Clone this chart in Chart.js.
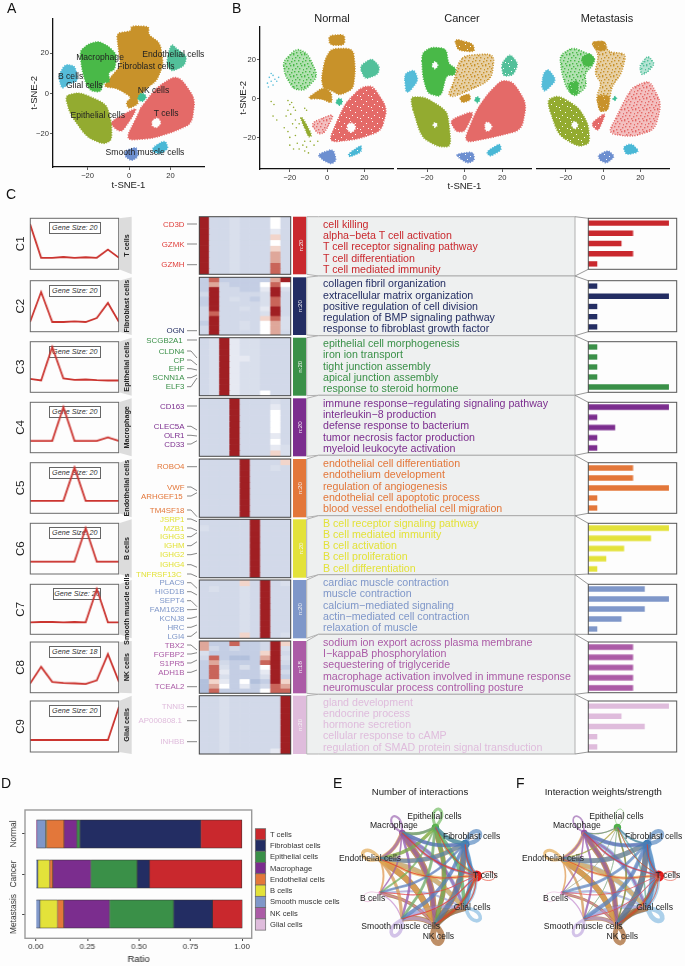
<!DOCTYPE html>
<html>
<head>
<meta charset="utf-8">
<title>Cell type atlas</title>
<script src="https://cdn.jsdelivr.net/npm/chart.js@4"></script>
<style>
body { margin: 0; background: #fdfdfd; }
#fig { position: relative; width: 685px; height: 966px; overflow: hidden; font-family: "Liberation Sans", Arial, sans-serif; }
#fig canvas { position: absolute; }
#overlay { position: absolute; left: 0; top: 0; }
.gsize { position: absolute; box-sizing: border-box; height: 12px; border: 1px solid #666; background: #fff; font: italic 7.2px "Liberation Sans", Arial, sans-serif; color: #333; text-align: center; line-height: 10px; }
</style>
</head>
<body>
<div id="fig"><svg id="overlay" width="685" height="966"></svg></div>
<script>
// ---- cell types
const cellTypes = ['T cells', 'Fibroblast cells', 'Epithelial cells', 'Macrophage', 'Endothelial cells', 'B cells', 'Smooth muscle cells', 'NK cells', 'Glial cells'];
const clusterColors = ['#c9282d', '#232d63', '#3a9048', '#7b2d8e', '#e3773a', '#e3e23a', '#7f97c9', '#ab5ba6', '#dfbcdc'];

// ---- panel A, outlines of the t-SNE clouds
const allMac = [[-23.7,21.1],[-19.6,24.7],[-14.8,26],[-10,23.6],[-6,19.5],[-6.8,12],[-10,10.5],[-9.2,5.6],[-12.4,5.6],[-13.7,.7],[-18.8,1.5],[-21.3,6.4],[-22.9,13]];
const allFib = [[1,33.7],[9.7,33.4],[9.3,29.3],[15,25.2],[16.6,14.6],[13.4,6.4],[8.5,2.8],[4,-2.6],[4.5,-5.1],[-.3,-7.5],[-1.4,-4.3],[1.3,-1.8],[-6,2.8],[-12.4,3.4],[-8.4,8.8],[-4,13.8],[-5.2,22.8],[-6,30.1],[1,31]];
const allEndo = [[19,20.3],[20.6,24.7],[23,22.3],[27.9,18.7],[26.7,13.8],[20.6,11],[18.2,14.6]];
const allB = [[-30.9,14.6],[-26.1,13.8],[-24.5,6.4],[-29.3,4.8],[-32.5,2.3],[-34.1,8.8]];
const allT = [[21.4,8.4],[25.4,7.2],[31.9,-2.6],[30.3,-14.9],[21.4,-19],[11,-22.3],[-1.9,-23.1],[4.5,-10],[5.3,-7.5],[13.4,3.1]];
const allT2 = [[-9.2,-14.1],[3.7,-6.7],[2.1,-10.8],[-3.5,-19],[-6.8,-17.4]];
const allEpi = [[-30.9,-1],[-23.7,.7],[-10.8,-5.1],[-8.4,-14.9],[-8.4,-23.1],[-12.4,-25.1],[-20.5,-21.5],[-28.5,-10]];
const allNK = [[4.2,-1.8],[5.5,.2],[7.6,-.2],[8.4,-2],[6.8,-3.8],[4.9,-3.5]];
const allSM = [[-1.9,-28.3],[3.7,-26.4],[4.5,-31.3],[1.3,-33.4],[-1.9,-31.3]];
const allSky = [[11.8,-26.4],[17.4,-23.1],[19,-27.2],[15,-30],[11.4,-28.8]];
const allHole = [[11.5,-13],[14,-12],[15.5,-14.5],[13.5,-17],[11,-16]];
const labelsA = ['Macrophage', 'Fibroblast cells', 'Endothelial cells', 'B cells', 'Glial cells', 'Epithelial cells', 'NK cells', 'T cells', 'Smooth muscle cells'];
const labelsAxy = [[-14,17.9],[8.2,13.4],[21.4,19.2],[-28.2,8.7],[-21.6,3.8],[-15.1,-11],[11.8,1.3],[17.9,-10],[7.7,-29.5]];

// ---- panel B, Normal
const normMac = [[-23.6,19.2],[-16.4,25.9],[-10.5,23.4],[-4.8,11.7],[-12,4.2],[-18.2,5],[-22.7,12.5]];
const normFib = [[-3,10.9],[-1.2,20.1],[2.3,25.9],[14,25.9],[15.2,15.1],[14,5],[6.8,1.7],[2.3,4.2],[-2.2,5.4]];
const normFibTail = [[-10.9,0],[-2.2,5.9],[2.3,3.3],[2.7,-2.5],[-3,0]];
const normFibTop = [[.9,32.6],[9.4,33.1],[9.4,27.6],[1.4,27.6]];
const normEndo = [[17.5,16.7],[23.8,20.9],[28.2,16.7],[27.3,12.5],[20.2,10]];
const normNK = [[4.6,-1.7],[6,.2],[8,-.4],[8.2,-2.4],[6.4,-3.6]];
const normT = [[18.4,5.9],[24.6,6.7],[32.3,-5],[29.1,-16.7],[16.6,-20.9],[.5,-22.6],[6.8,-8.4],[10.4,-1.7]];
const normT2 = [[-8.8,-12.6],[4.1,-7.5],[-1.3,-17.6],[-4.8,-18.4]];
const normHole = [[11,-13],[14,-12.5],[15.5,-15],[13.5,-17.5],[11,-16.5]];
const normSM = [[-5.2,-28.8],[3.2,-25.9],[5,-31.8],[2.3,-33.8],[-2.1,-31.8]];
const normSky = [[11.3,-28.5],[18.4,-23.8],[18.4,-27.6],[12.1,-30.1]];
const normEpiStreak = [[-14.5,-9.5],[-13,-10],[-8,-19],[-10,-20]];
const normEpiDots = [[-30,-1.5],[-28.5,-3],[-29,-9],[-27,-11],[-21,-1],[-20,-3],[-19,-2],[-18,-4.5],[-17,-6],[-21,-6],[-22,-9],[-19.5,-8],[-12,-5],[-11,-6],[-23,-15],[-21,-17],[-20,-20],[-17,-19],[-16,-23],[-15,-26],[-13,-24],[-12,-22],[-11,-25],[-10,-28],[-18.5,-13],[-17,-11],[-16.5,-15],[-15,-13],[-9,-22],[-7,-24],[-5,-22],[-20,-24],[-18,-26],[-12,-27]];
const normBDots = [[-32,8],[-31,11],[-30,13],[-29,12],[-31.5,6],[-29,7],[-28,10],[-27,9],[-26,11],[-30,9]];

// ---- panel B, Cancer
const cancMac = [[-22.9,21.8],[-17.9,25.1],[-9.8,24.3],[-8.6,16.7],[-4.5,14.2],[-5.4,10.9],[-9.8,10.9],[-12.5,0],[-19.6,1.7],[-22.3,10]];
const cancMacHole = [[-17.5,16],[-15.7,18],[-14,16],[-15.7,13.8]];
const cancFib = [[0,20.9],[16,21.8],[14.3,8.4],[-5.4,0],[-8.9,.8],[-5.4,8.4],[-3.6,16.7]];
const cancFibTop = [[-5.4,29.3],[4.5,26.8],[5.4,22.6],[-3.6,23.4]];
const cancFibLow = [[-2.7,0],[2.7,1.7],[3.2,-1.7],[-1.4,-3]];
const cancEndo = [[19.6,16.7],[24.1,21.8],[28.6,16.7],[25.9,10.9],[20.5,10.4]];
const cancB = [[-32.1,11.7],[-26.8,13.7],[-24.6,8.4],[-29.5,2.5],[-31.3,2.5]];
const cancEpi = [[-29.5,0],[-21.4,0],[-12.5,-5],[-8.9,-8.4],[-7.1,-25.1],[-14.3,-25.1],[-23.2,-20.1]];
const cancEpiHole = [[-17,-14],[-15.7,-12.8],[-14.3,-14],[-15.7,-15.6]];
const cancT = [[19.6,8.4],[25.9,7.5],[33,-3.3],[30.4,-16.7],[16.1,-20.1],[-.9,-23.4],[6.3,-6.7],[12.5,1.7]];
const cancT2 = [[-8,-11.7],[5.4,-6.7],[0,-17.6],[-4.5,-17.6]];
const cancTHole = [[11,-13],[13,-12.8],[14.8,-15],[13,-17.2],[11,-17]];
const cancSM = [[-4.5,-28.8],[4.5,-27.6],[5.4,-31.8],[1.8,-33.5],[-2.7,-31]];
const cancSky = [[11.6,-27.6],[18.8,-23.4],[19.6,-26.8],[13.4,-30.1]];
const cancNK = [[5.2,-1.3],[6.8,.4],[8.4,-1.3],[6.8,-3.2]];

// ---- panel B, Metastasis
const metaMac = [[-23.2,20.9],[-16.1,25.1],[-4.5,20.1],[-5.4,15.9],[-9.8,11.7],[-8.9,5],[-15.2,0],[-19.6,4.2],[-22.3,12.6]];
const metaMacCap = [[-11.6,20.1],[-7.1,22.1],[-4.1,18.7],[-7.1,15.1],[-10.7,15.9]];
const metaMacLow = [[-18.8,6.7],[-13.4,8.4],[-13.4,.8],[-17.9,1.7]];
const metaFib = [[-6.3,27.6],[.9,28.1],[2.7,22.6],[12.5,21.8],[9.8,11.7],[4.5,5],[2.7,-6.7],[-1.8,-7.5],[-3.6,0],[-.9,6.7],[-4.5,11.7],[-2.3,20.9]];
const metaFibLow = [[-3.6,.8],[3.5,.8],[2.7,-6.7],[-1.8,-7.5]];
const metaFibTop = [[-6.3,27.6],[.9,28.1],[1.8,23.4],[-3.6,23.4]];
const metaEndo = [[19.6,15.9],[24.1,20.9],[27.7,16.7],[24.1,12.6],[20.5,10.9]];
const metaB = [[-32.1,11.7],[-29.5,14.2],[-25,8.4],[-31.3,2.5],[-33,5]];
const metaEpi = [[-30.4,-1.7],[-24.1,.8],[-13.4,-5],[-8,-13.4],[-7.1,-23.4],[-13.4,-25.1],[-24.1,-19.2]];
const metaEpiHole = [[-17.2,-14],[-15.2,-12],[-13.2,-14.2],[-15.2,-16.4]];
const metaT = [[16.1,5],[25,8.4],[31.3,-3.3],[27.7,-16.7],[15.2,-20.1],[2.7,-18.4],[8,-8.4],[12.5,0]];
const metaT2 = [[-6.6,-13.4],[1.8,-7.5],[-2.7,-17.6]];
const metaSM = [[-2.7,-29.3],[2.7,-26.8],[6.3,-30.1],[1.8,-33.5],[-1.8,-31.8]];
const metaSky = [[10.7,-25.1],[15.2,-23.4],[19.6,-27.6],[12.5,-29.3]];
const metaNK = [[5.2,-.8],[6.6,.4],[7.4,-1],[6,-2]];

const tsneTicks = [-20, 0, 20];
const facetTitles = ['Normal', 'Cancer', 'Metastasis'];

// ---- panel C, profile lines (9 clusters across)
const profile1 = [.88,.22,.22,.235,.22,.23,.22,.38,.22];
const profile2 = [.196,.784,.196,.196,.209,.196,.275,.569,.196];
const profile3 = [.263,.23,.9,.27,.243,.25,.237,.23,.23];
const profile4 = [.238,.238,.238,.9,.238,.238,.238,.305,.238];
const profile5 = [.243,.243,.243,.243,.908,.243,.243,.243,.243];
const profile6 = [.243,.243,.243,.243,.243,.9,.243,.243,.243];
const profile7 = [.233,.24,.24,.233,.24,.233,.9,.233,.233];
const profile8 = [.184,.513,.217,.197,.19,.178,.25,.763,.217];
const profile9 = [.235,.235,.235,.235,.235,.235,.235,.235,.889];
const profiles = [profile1, profile2, profile3, profile4, profile5, profile6, profile7, profile8, profile9];
const geneSizes = [20, 20, 20, 20, 20, 20, 20, 18, 20];

// heat rows, one digit per column: 0 deep blue ... 5 white ... 9 dark red
const heat1 = ['922322252','922322252','922322242','922322262','922322252','922322262','922322272','922322272','922322282','922322282'];
const heat2 = ['181111179','172111585','192211493','292222392','192321382','192222382','292232492','282222392','292222683','192232573','292232573','292222572'];
const heat3 = ['239433222','239433222','239433222','239443222','239433222','239433222','239433222','239433222','239433222','239433522'];
const heat4 = ['222922232','222922242','222922252','222922252','222922252','222922252','222922242','222922252','222922243','222922263'];
const heat5 = ['222292226','222292232','222292222','222292222','222292222','222292222','222292222','222292222','222292222','222292222'];
const heat6 = ['222229222','322229222','222229222','222229222','222229222','222229222','222229222','222229222','222229222','222229222'];
const heat7 = ['222262923','232232922','222232922','222232922','222232922','222232922','222232922','222232922','222232922','222262923'];
const heat8 = ['711811296','721211293','311111692','281001793','172111892','183131591','184111492','183111391','064150196','075141287','081111588'];
const heat9 = ['223222229','223222229','223222229','223222229','223222229','223222229','223222229','223222229','223222229','223222249'];
const heats = [heat1, heat2, heat3, heat4, heat5, heat6, heat7, heat8, heat9];

const genes1 = ['CD3D', 'GZMK', 'GZMH'];
const genes2 = ['OGN'];
const genes3 = ['SCGB2A1', 'CLDN4', 'CP', 'EHF', 'SCNN1A', 'ELF3'];
const genes4 = ['CD163', 'CLEC5A', 'OLR1', 'CD33'];
const genes5 = ['ROBO4', 'VWF', 'ARHGEF15', 'TM4SF18'];
const genes6 = ['JSRP1', 'MZB1', 'IGHG3', 'IGHM', 'IGHG2', 'IGHG4', 'TNFRSF13C'];
const genes7 = ['PLAC9', 'HIGD1B', 'SEPT4', 'FAM162B', 'KCNJ8', 'HRC', 'LGI4'];
const genes8 = ['TBX2', 'FGFBP2', 'S1PR5', 'ADH1B', 'TCEAL2'];
const genes9 = ['TNNI3', 'AP000808.1', 'INHBB'];
const geneLists = [genes1, genes2, genes3, genes4, genes5, genes6, genes7, genes8, genes9];

const terms1 = ['cell killing', 'alpha\u2212beta T cell activation', 'T cell receptor signaling pathway', 'T cell differentiation', 'T cell mediated immunity'];
const terms2 = ['collagen fibril organization', 'extracellular matrix organization', 'positive regulation of cell division', 'regulation of BMP signaling pathway', 'response to fibroblast growth factor'];
const terms3 = ['epithelial cell morphogenesis', 'iron ion transport', 'tight junction assembly', 'apical junction assembly', 'response to steroid hormone'];
const terms4 = ['immune response\u2212regulating signaling pathway', 'interleukin\u22128 production', 'defense response to bacterium', 'tumor necrosis factor production', 'myeloid leukocyte activation'];
const terms5 = ['endothelial cell differentiation', 'endothelium development', 'regulation of angiogenesis', 'endothelial cell apoptotic process', 'blood vessel endothelial cell migration'];
const terms6 = ['B cell receptor signaling pathway', 'B cell mediated immunity', 'B cell activation', 'B cell proliferation', 'B cell differentiation'];
const terms7 = ['cardiac muscle contraction', 'muscle contraction', 'calcium\u2212mediated signaling', 'actin\u2212mediated cell contraction', 'relaxation of muscle'];
const terms8 = ['sodium ion export across plasma membrane', 'I\u2212kappaB phosphorylation', 'sequestering of triglyceride', 'macrophage activation involved in immune response', 'neuromuscular process controlling posture'];
const terms9 = ['gland development', 'endocrine process', 'hormone secretion', 'cellular response to cAMP', 'regulation of SMAD protein signal transduction'];
const termLists = [terms1, terms2, terms3, terms4, terms5, terms6, terms7, terms8, terms9];

const enrich1 = [9, 5, 3.7, 5, 1];
const enrich2 = [1, 9, 1, 1, 1];
const enrich3 = [1, 1, 1, 1, 9];
const enrich4 = [9, 1, 3, 1, 1];
const enrich5 = [5, 5, 9, 1, 1];
const enrich6 = [9, 7, 4, 2, 1];
const enrich7 = [6.3, 9, 6.3, 3.7, 1];
const enrich8 = [5, 5, 5, 5, 5];
const enrich9 = [9, 3.7, 6.3, 1, 1];
const enrichLists = [enrich1, enrich2, enrich3, enrich4, enrich5, enrich6, enrich7, enrich8, enrich9];

// ---- panel D, ratio per tissue (Normal, Cancer, Metastasis)
const stages = ['Normal', 'Cancer', 'Metastasis'];
const ratioTicks = [0, .25, .5, .75, 1];
const ratioT = [.199, .448, .144];
const ratioFib = [.587, .06, .188];
const ratioEpi = [.0146, .225, .311];
const ratioMac = [.0615, .184, .222];
const ratioEndo = [.0855, .016, .031];
const ratioB = [.004, .0566, .084];
const ratioSM = [.042, .01, .021];
const ratioNK = [.006, 0, 0];
const ratioGlial = [0, 0, 0];
const ratioSeries = [ratioT, ratioFib, ratioEpi, ratioMac, ratioEndo, ratioB, ratioSM, ratioNK, ratioGlial];

// ---- panels E and F, order as in cellTypes
const nodeX = [1, .77, .17, -.5, -.94, -.94, -.5, .17, .77];
const nodeY = [0, .64, .98, .87, .34, -.34, -.87, -.98, -.64];
const countMatrix = [
    [0,.6,.5,.6,.5,.4,.5,.7,.6],
    [1.8,0,2,1.8,2,1.2,1.8,2.2,2],
    [1.6,2,0,1.4,1.6,1,1.4,1.8,1.6],
    [1.4,1.6,1.2,0,1.4,.8,1.2,1.8,1.4],
    [1.6,2.4,1.6,2,0,1,1.6,2.6,2.2],
    [.5,.5,.4,.4,.5,0,.4,.5,.4],
    [1,1.4,1,1,1.2,.6,0,1.6,1.4],
    [1.8,3,2.4,3,3,1.6,2.4,0,3],
    [1.6,2.4,1.8,2,2.4,1,1.8,3.2,0]
];
const weightMatrix = [
    [0,.5,.4,.5,.4,.3,.4,.5,.4],
    [1.6,0,1,2,2.4,1.4,2,2.6,2.6],
    [.4,.6,0,.5,.4,.3,.4,.5,.4],
    [1,1.4,.6,0,1,.7,1,1.6,1.2],
    [1.4,2.4,.7,1.8,0,.8,1.2,2.4,2],
    [.4,.4,.3,.4,.4,0,.4,.5,.4],
    [.8,1.2,.4,.8,1,.6,0,1.4,1.2],
    [1.8,2.8,.8,2.6,2.8,1.4,2,0,3],
    [2,3,.9,2.2,2.6,1.2,2.2,3.4,0]
];
const countSelf = [.7, 3.5, 2.5, 1.8, 3, .6, 3, 5, 3];
const weightSelf = [.6, 3.5, .6, 1.4, 2.5, .5, 2.5, 4, 4];
const countSize = [5.5, 4.5, 3.7, 3.2, .8, 2, 1.2, 1.2, 1];
const weightSize = [5.5, 4.5, 3.7, 3.2, .8, 2, 1.2, 1.2, 1];
const netLabelsE = [[1.18,0],[.9,.79],[.15,1.19],[-.67,1.01],[-1.15,.35],[-1.1,-.45],[-.53,-1.03],[.23,-1.23],[.91,-.64]];
const netLabelsF = [[1.19,0],[.9,.79],[.15,1.19],[-.65,1.01],[-1.13,.35],[-1.08,-.45],[-.52,-1.03],[.27,-1.23],[.92,-.64]];

// ---- layout of panel C rows, in page pixels
const rowTop = [216.7,277.3,337.7,398.3,459,519.3,580,641,695.7];
const rowBot = [274.3,335,395.7,456.3,517.3,577.7,638.3,693.3,754];
const boxTop = [218.3,280.7,341.7,402.3,462.7,523.3,584.3,642,701];
const boxBot = [269.3,331.7,392.3,452.7,513.3,574,634.3,692.7,752];
const bodyTop = [216.7,276,335.7,395.3,455.3,515.7,574.7,634.3,694.3];
const bodyBot = [276,335.7,395.3,455.3,515.7,574.7,634.3,694.3,754];
const geneY = [[224,244,264.7],[330.7],[340,351,360,368.7,377.7,386.7],[406,426.3,435.3,444],[466.7,487,496,510],[519,528,536.7,545.7,554.7,564.7,574],[582.7,591.7,600.7,609.7,618.3,627.3,636.3],[645,654,663,672.3,686.7],[706.7,720.7,741.7]];
const geneEnd = [[224,244,264.7],[330.7],[340,358,365,370,375,378],[406,430,436,440.7],[466.7,490.7,492.7,516.7],[521.7,530.7,532.7,541.7,553.3,567.3,576.7],[588.3,595,606.7,609.3,616.7,625,631.7],[650,652.7,660,670,686.7],[706.7,720.7,741.7]];
const geneRightShort = { TNFRSF13C: 181.7, ARHGEF15: 182.7, SCGB2A1: 182.7, 'AP000808.1': 182 };

const FONT = '"Liberation Sans", Arial, sans-serif';
const fig = document.getElementById('fig');
const overlay = document.getElementById('overlay');
Chart.defaults.font.family = FONT;
Chart.defaults.animation = false;
Chart.defaults.responsive = false;
Chart.defaults.plugins.legend.display = false;
Chart.defaults.plugins.tooltip.enabled = false;
Chart.defaults.layout.autoPadding = false;

function newCanvas(x, y, w, h) {
    const c = document.createElement('canvas');
    c.width = w;
    c.height = h;
    c.style.left = x + 'px';
    c.style.top = y + 'px';
    c.style.width = w + 'px';
    c.style.height = h + 'px';
    fig.insertBefore(c, overlay);
    return c;
}

function svg(tag, attrs, text) {
    const el = document.createElementNS('http://www.w3.org/2000/svg', tag);
    for (const k in attrs) el.setAttribute(k, attrs[k]);
    if (text !== undefined) el.textContent = text;
    overlay.appendChild(el);
    return el;
}

function label(x, y, text, size, color, opts) {
    opts = opts || {};
    const a = { x: x, y: y, 'font-size': size, fill: color, 'font-family': FONT, 'dominant-baseline': 'central', 'text-anchor': opts.anchor || 'start' };
    if (opts.bold) a['font-weight'] = 'bold';
    if (opts.rotate) a.transform = 'rotate(' + opts.rotate + ' ' + x + ' ' + y + ')';
    return svg('text', a, text);
}

// speckle for the sparse clouds, dots per tile
const speckles = {
    1: { alpha: .8, dots: [] },
    2: { alpha: .42, dots: [[0,0],[4,1],[8,0],[2,3],[6,3],[10,4],[1,6],[5,6],[9,7],[3,9],[7,9],[0,10]] },
    3: { alpha: .16, dots: [[1,1],[6,0],[9,3],[3,4],[7,6],[0,7],[4,9],[10,9]] }
};
const holesDense = [[2,1],[7,3],[4,6],[9,8],[1,9]];
function fillFor(ctx, color, density) {
    if (!density) return color;
    const s = speckles[density];
    const t = document.createElement('canvas');
    t.width = t.height = 11;
    const g = t.getContext('2d');
    g.fillStyle = color;
    g.globalAlpha = density === 1 ? 1 : s.alpha;
    g.fillRect(0, 0, 11, 11);
    g.globalAlpha = 1;
    s.dots.forEach(d => g.fillRect(d[0], d[1], 1.4, 1.4));
    if (density === 1) holesDense.forEach(d => g.clearRect(d[0], d[1], 1, 1));
    return ctx.createPattern(t, 'repeat');
}

// closes the outline of a cloud through the points the scales placed
const blobPlugin = {
    id: 'blobs',
    beforeDatasetsDraw(chart) {
        const ctx = chart.ctx;
        chart.data.datasets.forEach((ds, i) => {
            if (!ds.blobColor) return;
            const pts = chart.getDatasetMeta(i).data;
            const n = pts.length;
            const lerp = (a, b, t) => ({ x: a.x + (b.x - a.x) * t, y: a.y + (b.y - a.y) * t });
            ctx.save();
            ctx.beginPath();
            for (let k = 0; k < n; k++) {
                const prev = pts[(k + n - 1) % n], p = pts[k], next = pts[(k + 1) % n];
                const a = lerp(p, prev, .32), b = lerp(p, next, .32);
                if (k === 0) ctx.moveTo(a.x, a.y); else ctx.lineTo(a.x, a.y);
                ctx.quadraticCurveTo(p.x, p.y, b.x, b.y);
            }
            ctx.closePath();
            ctx.fillStyle = fillFor(ctx, ds.blobColor, ds.density);
            ctx.fill();
            if (ds.density !== 3) {
                ctx.strokeStyle = ds.blobColor;
                ctx.lineWidth = 1.5;
                ctx.setLineDash([1, 1.5]);
                ctx.stroke();
            }
            ctx.restore();
        });
    }
};

// text tied to data positions
const textPlugin = {
    id: 'dataText',
    afterDatasetsDraw(chart, args, opts) {
        if (!opts.names) return;
        const ctx = chart.ctx;
        ctx.save();
        ctx.font = opts.size + 'px ' + FONT;
        ctx.fillStyle = '#222';
        ctx.textAlign = 'center';
        ctx.textBaseline = 'middle';
        opts.names.forEach((t, i) => {
            ctx.fillText(t, chart.scales.x.getPixelForValue(opts.at[i][0]), chart.scales.y.getPixelForValue(opts.at[i][1]));
        });
        ctx.restore();
    }
};

const tsneColors = { mac: '#49b948', fib: '#c8922a', endo: '#52c09a', b: '#55bcd8', t: '#e46a68', epi: '#93ab30', nk: '#3fbf96', sm: '#6d8fd0', sky: '#4ab8d6', hole: '#fdfdfd' };

function blobSet(pts, key, density) {
    return { data: pts.map(p => ({ x: p[0], y: p[1] })), blobColor: tsneColors[key], density: density || 0, pointRadius: 0, showLine: false };
}
function dotSet(pts, key) {
    return { data: pts.map(p => ({ x: p[0], y: p[1] })), pointRadius: .8, pointBorderWidth: 0, pointBackgroundColor: tsneColors[key], showLine: false };
}

function tsneChart(px0, py0, px1, py1, m, sets, opt) {
    opt = opt || {};
    const c = newCanvas(px0 - m.l, py0 - m.t, px1 - px0 + m.l + m.r, py1 - py0 + m.t + m.b);
    const tick = { color: '#333', font: { size: 7.6 }, padding: 1, callback: v => v < 0 ? '\u2212' + Math.abs(v) : '' + v };
    new Chart(c, {
        type: 'scatter',
        data: { datasets: sets },
        plugins: [blobPlugin, textPlugin],
        options: {
            layout: { padding: { top: m.t, right: m.r } },
            plugins: { dataText: { names: opt.names, at: opt.at, size: 8.6 } },
            scales: {
                x: {
                    min: opt.xmin, max: opt.xmax,
                    afterFit: s => { s.height = m.b; },
                    afterBuildTicks: s => { s.ticks = tsneTicks.map(v => ({ value: v })); },
                    border: { color: '#111', width: 1.3 },
                    grid: { drawOnChartArea: false, tickLength: 3, color: '#333', tickWidth: .8 },
                    ticks: tick,
                    title: { display: !!opt.xTitle, text: opt.xTitle, color: '#222', font: { size: 9.5 }, padding: 0 }
                },
                y: {
                    min: opt.ymin, max: opt.ymax,
                    display: opt.noY ? false : true,
                    afterFit: s => { s.width = m.l; },
                    afterBuildTicks: s => { s.ticks = tsneTicks.map(v => ({ value: v })); },
                    border: { color: '#111', width: 1.3 },
                    grid: { drawOnChartArea: false, tickLength: 3, color: '#333', tickWidth: .8 },
                    ticks: tick,
                    title: { display: !opt.noY, text: 't-SNE-2', color: '#222', font: { size: 9.5 }, padding: 0 }
                }
            }
        }
    });
}

// panel A
tsneChart(53, 17, 204, 167, { l: 24, r: 6, t: 4, b: 24 }, [
    blobSet(allFib, 'fib'), blobSet(allMac, 'mac'), blobSet(allEndo, 'endo'), blobSet(allB, 'b'),
    blobSet(allT, 't'), blobSet(allT2, 't'), blobSet(allHole, 'hole'), blobSet(allEpi, 'epi'),
    blobSet(allNK, 'nk'), blobSet(allSM, 'sm'), blobSet(allSky, 'sky')
], { xmin: -36.7, xmax: 36.2, ymin: -36.4, ymax: 37.3, xTitle: 't-SNE-1', names: labelsA, at: labelsAxy });

// panel B
const facetOpts = { xmin: -36, xmax: 35.9, ymin: -36.3, ymax: 37.2 };
tsneChart(260, 22.7, 394.3, 169, { l: 22, r: 0, t: 2, b: 23 }, [
    blobSet(normFib, 'fib'), blobSet(normFibTail, 'fib'), blobSet(normFibTop, 'fib'), blobSet(normMac, 'mac', 2),
    blobSet(normEndo, 'endo'), blobSet(normNK, 'nk'), blobSet(normT, 't', 1), blobSet(normT2, 't', 2), blobSet(normHole, 'hole'),
    blobSet(normSM, 'sm'), blobSet(normSky, 'sky', 1), blobSet(normEpiStreak, 'epi', 1), dotSet(normEpiDots, 'epi'), dotSet(normBDots, 'b')
], facetOpts);
tsneChart(396.7, 22.7, 532.3, 169, { l: 0, r: 0, t: 2, b: 23 }, [
    blobSet(cancFib, 'fib', 2), blobSet(cancFibTop, 'fib', 1), blobSet(cancFibLow, 'fib'), blobSet(cancMac, 'mac'), blobSet(cancMacHole, 'hole', 1),
    blobSet(cancEndo, 'endo', 1), blobSet(cancB, 'b'), blobSet(cancEpi, 'epi'), blobSet(cancEpiHole, 'hole'),
    blobSet(cancT, 't'), blobSet(cancT2, 't'), blobSet(cancTHole, 'hole'), blobSet(cancSM, 'sm', 1), blobSet(cancSky, 'sky'), blobSet(cancNK, 'nk')
], Object.assign({ noY: true, xTitle: 't-SNE-1' }, facetOpts));
tsneChart(535.7, 22.7, 670.3, 169, { l: 0, r: 0, t: 2, b: 23 }, [
    blobSet(metaFib, 'fib', 2), blobSet(metaFibLow, 'fib', 1), blobSet(metaFibTop, 'fib', 1), blobSet(metaMac, 'mac', 2), blobSet(metaMacCap, 'mac'), blobSet(metaMacLow, 'mac', 1),
    blobSet(metaEndo, 'endo', 2), blobSet(metaB, 'b'), blobSet(metaEpi, 'epi', 1), blobSet(metaEpiHole, 'hole'),
    blobSet(metaT, 't', 2), blobSet(metaT2, 't', 1), blobSet(metaSM, 'sm', 1), blobSet(metaSky, 'sky'), blobSet(metaNK, 'nk')
], Object.assign({ noY: true }, facetOpts));
label(332, 18, facetTitles[0], 11, '#222', { anchor: 'middle' });
label(462, 18, facetTitles[1], 11, '#222', { anchor: 'middle' });
label(607, 18, facetTitles[2], 11, '#222', { anchor: 'middle' });

// panel letters
[['A', 7, 8], ['B', 232, 8], ['C', 6, 194], ['D', 1, 783], ['E', 333, 783], ['F', 516, 783]].forEach(p => label(p[1], p[2], p[0], 14, '#111'));

// panel C
const heatColors = ['#b2c0dc', '#c4cee4', '#d2d9e9', '#d9dfec', '#e6e9f2', '#ffffff', '#f2d5cb', '#dfa79a', '#c9655a', '#a01f23'];

cellTypes.forEach((name, i) => {
    const color = clusterColors[i];
    const yBox = boxTop[i], hBox = boxBot[i] - boxTop[i];
    const yRow = rowTop[i], hRow = rowBot[i] - rowTop[i];

    // Gene Size box sits under the profile line
    const gs = document.createElement('div');
    gs.className = 'gsize';
    gs.style.left = (i === 6 ? 52.7 : 48.5) + 'px';
    gs.style.width = (i === 6 ? 48.5 : 52.7) + 'px';
    gs.style.top = (yBox + 4) + 'px';
    gs.textContent = 'Gene Size: ' + geneSizes[i];
    fig.insertBefore(gs, overlay);

    // profile line
    new Chart(newCanvas(30.3, yBox, 88.4, hBox), {
        type: 'line',
        data: { labels: profiles[i].map((v, k) => k + 1), datasets: [{ data: profiles[i], borderColor: '#cb3530', borderWidth: 1.8, pointRadius: 0, tension: 0 }] },
        options: { scales: { x: { display: false, offset: false }, y: { display: false, min: 0, max: 1 } } }
    });

    // heatmap as stacked one unit bars
    const rows = heats[i];
    new Chart(newCanvas(199.3, yRow, 91.4, hRow), {
        type: 'bar',
        data: {
            labels: profiles[i].map((v, k) => k + 1),
            datasets: rows.map(r => ({
                data: r.split('').map(() => 1),
                backgroundColor: r.split('').map(d => heatColors[+d]),
                borderWidth: 0,
                barPercentage: 1,
                categoryPercentage: 1
            }))
        },
        options: { scales: { x: { display: false, stacked: true }, y: { display: false, stacked: true, reverse: true, min: 0, max: rows.length } } }
    });

    // enrichment bars
    new Chart(newCanvas(588.3, yBox, 88.4, hBox), {
        type: 'bar',
        data: { labels: termLists[i], datasets: [{ data: enrichLists[i], backgroundColor: color, barThickness: 4.7 }] },
        options: { indexAxis: 'y', scales: { x: { display: false, min: 0, max: 9.94 }, y: { display: false } } }
    });

    svg('rect', { x: 30.3, y: yBox, width: 88.4, height: hBox, fill: 'none', stroke: '#6a6a6a', 'stroke-width': 1 });
    svg('polygon', { points: [119, yBox, 131.7, yRow, 131.7, rowBot[i], 119, boxBot[i]].join(' '), fill: '#dcdcdc' });
    label(20, yBox + hBox / 2, 'C' + (i + 1), 11.5, '#222', { anchor: 'middle', rotate: -90 });

    svg('rect', { x: 199.3, y: yRow, width: 91.4, height: hRow, fill: 'none', stroke: '#444', 'stroke-width': 1 });
    svg('rect', { x: 293, y: yRow, width: 13, height: hRow, fill: color });
    label(300, yRow + hRow / 2, 'n:' + geneSizes[i], 6.2, '#f4f4f4', { anchor: 'middle', rotate: -90 });

    // grey body for the terms
    svg('polygon', {
        points: [306.7, yRow, 318.5, bodyTop[i], 575, bodyTop[i], 575, bodyBot[i], 318.5, bodyBot[i], 306.7, rowBot[i]].join(' '),
        fill: '#eef0f0', stroke: '#a8a8a8', 'stroke-width': .9
    });
    svg('polyline', { points: [575, bodyTop[i], 588.3, yBox].join(' '), fill: 'none', stroke: '#8c8c8c', 'stroke-width': .9 });
    svg('polyline', { points: [575, bodyBot[i], 588.3, boxBot[i]].join(' '), fill: 'none', stroke: '#8c8c8c', 'stroke-width': .9 });

    svg('rect', { x: 588.3, y: yBox, width: 88.4, height: hBox, fill: 'none', stroke: '#555', 'stroke-width': 1 });

    // gene labels and their leader lines
    geneLists[i].forEach((g, k) => {
        label(geneRightShort[g] || 184.5, geneY[i][k], g, 7.9, color === '#c9282d' ? '#e0403c' : color, { anchor: 'end' });
        svg('polyline', { points: [187, geneY[i][k], 191, geneY[i][k], 197, geneEnd[i][k]].join(' '), fill: 'none', stroke: '#555', 'stroke-width': .7 });
    });
});

// strip names and terms go last, the long ones run over the neighbour rows
cellTypes.forEach((name, i) => {
    label(126.5, (rowTop[i] + rowBot[i]) / 2, name, 7.2, '#222', { anchor: 'middle', rotate: -90, bold: true });
    const mid = (bodyTop[i] + bodyBot[i]) / 2;
    termLists[i].forEach((t, k) => label(323, mid + (k - 2) * 11.25, t, 10.65, clusterColors[i]));
});

// panel D
const stackOrder = [8, 7, 6, 5, 4, 3, 2, 1, 0];
(function () {
    const m = { l: 25, r: 4, t: 2, b: 27 };
    const px0 = 25, py0 = 810, px1 = 251.7, py1 = 938.3;
    new Chart(newCanvas(px0 - m.l, py0 - m.t, px1 - px0 + m.l + m.r, py1 - py0 + m.t + m.b), {
        type: 'bar',
        data: {
            datasets: stackOrder.map(s => ({
                label: cellTypes[s],
                data: ratioSeries[s].map((v, k) => ({ x: v, y: k + 1 })),
                backgroundColor: clusterColors[s],
                borderColor: '#333',
                borderWidth: .7,
                barThickness: 28.3
            }))
        },
        options: {
            indexAxis: 'y',
            layout: { padding: { top: m.t, right: m.r } },
            scales: {
                x: {
                    stacked: true, type: 'linear', min: -.052, max: 1.0485,
                    afterFit: s => { s.height = m.b; },
                    afterBuildTicks: s => { s.ticks = ratioTicks.map(v => ({ value: v })); },
                    border: { display: false },
                    grid: { drawOnChartArea: false, tickLength: 3, color: '#444' },
                    ticks: { color: '#333', font: { size: 8 }, padding: 1, callback: v => v.toFixed(2) },
                    title: { display: true, text: 'Ratio', color: '#222', font: { size: 9.5 }, padding: 0 }
                },
                y: {
                    stacked: true, type: 'linear', reverse: true, min: .4, max: 3.6, offset: false,
                    afterFit: s => { s.width = m.l; },
                    afterBuildTicks: s => { s.ticks = [1, 2, 3].map(v => ({ value: v })); },
                    border: { display: false },
                    grid: { drawOnChartArea: false, offset: false, tickLength: 3, color: '#444' },
                    ticks: { color: '#333', font: { size: 8.4 }, padding: -12, minRotation: 90, maxRotation: 90, crossAlign: 'center', callback: v => stages[v - 1] }
                }
            }
        }
    });
    svg('rect', { x: px0, y: py0, width: px1 - px0, height: py1 - py0, fill: 'none', stroke: '#9a9a9a', 'stroke-width': 1.4 });
    cellTypes.forEach((name, i) => {
        const y = 828.7 + i * 11.27;
        svg('rect', { x: 255.3, y: y, width: 10.4, height: 11.27, fill: clusterColors[i], stroke: '#666', 'stroke-width': .7 });
        label(270, y + 5.6, name, 7.6, '#333');
    });
})();

// panels E and F
const netColors = ['#e41a1c', '#377eb8', '#4daf4a', '#984ea3', '#e5a33a', '#e377c2', '#b39bd6', '#a65628', '#6baed6'];
const edgeColors = ['rgba(228,60,40,.75)', 'rgba(70,125,185,.62)', 'rgba(100,180,80,.62)', 'rgba(145,85,170,.62)', 'rgba(226,165,75,.66)', 'rgba(225,140,200,.6)', 'rgba(185,160,220,.62)', 'rgba(165,100,45,.72)', 'rgba(130,185,225,.66)'];
const edgeScale = 2.1;

function networkChart(cx, cy, matrix, selfWidths, sizes, labels) {
    const half = 100, r = 49.5, lim = half / r;
    const sets = [];
    matrix.forEach((row, a) => {
        row.forEach((w, b) => {
            if (!w) return;
            const dx = nodeX[b] - nodeX[a], dy = nodeY[b] - nodeY[a];
            const bend = a < b ? .09 : -.09;
            sets.push({
                data: [
                    { x: nodeX[a], y: nodeY[a] },
                    { x: (nodeX[a] + nodeX[b]) / 2 - dy * bend, y: (nodeY[a] + nodeY[b]) / 2 + dx * bend },
                    { x: nodeX[b], y: nodeY[b] }
                ],
                showLine: true, tension: .5, pointRadius: 0, borderColor: edgeColors[a], borderWidth: w * edgeScale
            });
        });
    });
    // self loops leave the ring radially
    selfWidths.forEach((w, a) => {
        const ux = nodeX[a], uy = nodeY[a];
        const L = .38, W = .09;
        sets.push({
            data: [
                { x: ux, y: uy },
                { x: ux * (1 + L * .65) - uy * W, y: uy * (1 + L * .65) + ux * W },
                { x: ux * (1 + L), y: uy * (1 + L) },
                { x: ux * (1 + L * .65) + uy * W, y: uy * (1 + L * .65) - ux * W },
                { x: ux, y: uy }
            ],
            showLine: true, tension: .5, pointRadius: 0, borderColor: edgeColors[a], borderWidth: w * 1.2
        });
    });
    sets.push({
        data: nodeX.map((x, i) => ({ x: x, y: nodeY[i] })),
        showLine: false, pointRadius: sizes, pointBackgroundColor: netColors, pointBorderWidth: 0
    });
    new Chart(newCanvas(cx - half, cy - half, half * 2, half * 2), {
        type: 'scatter',
        data: { datasets: sets },
        plugins: [textPlugin],
        options: {
            plugins: { dataText: { names: cellTypes, at: labels, size: 8.6 } },
            scales: { x: { display: false, min: -lim, max: lim }, y: { display: false, min: -lim, max: lim } }
        }
    });
}
networkChart(426.7, 876, countMatrix, countSelf, countSize, netLabelsE);
networkChart(609, 876, weightMatrix, weightSelf, weightSize, netLabelsF);
label(420, 791.7, 'Number of interactions', 9.6, '#222', { anchor: 'middle' });
label(603.3, 791.7, 'Interaction weights/strength', 9.6, '#222', { anchor: 'middle' });
</script>
</body>
</html>
